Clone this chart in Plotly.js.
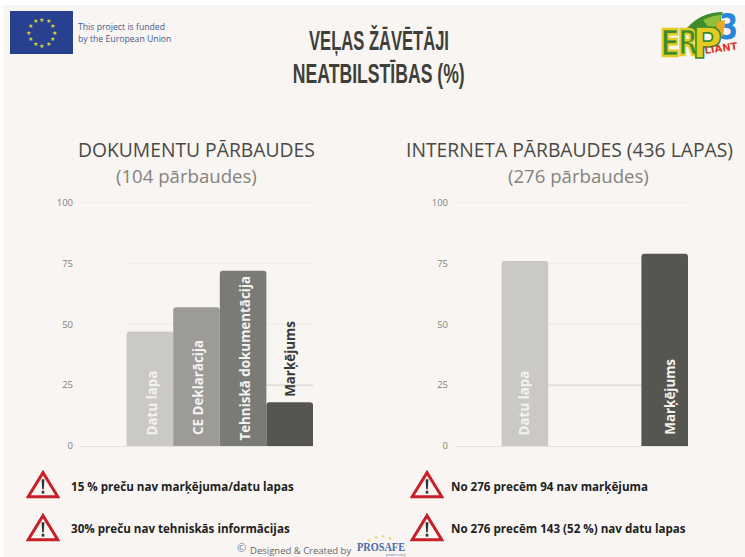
<!DOCTYPE html>
<html><head><meta charset="utf-8">
<script src="https://cdn.plot.ly/plotly-3.0.1.min.js"></script>
<style>html,body{margin:0;padding:0;background:#fff}</style></head>
<body><div id="c" style="width:745px;height:557px"></div>
<script>
// ---- data ----
const docLabels = ['Datu lapa','CE Deklarācija','Tehniskā dokumentācija','Marķējums'];
const docValues = [47,57,72,18];
const docSlots  = [1,2,3,4];
const docColors = ['#cbc9c5','#9c9b97','#7a7a76','#565651'];
const webLabels = ['Datu lapa','Marķējums'];
const webValues = [76,79];
const webSlots  = [1,4];
const webColors = ['#cbc9c5','#565651'];
const yTicks = [0,25,50,75,100];
const gridColors = ['#e6e3df','#d0cdc9','#edeae6','#edeae6','#e8e5e1'];

const W=745,H=557;
function px(x0,y0,x1,y1){return {x0:x0/W,x1:x1/W,y0:1-y1/H,y1:1-y0/H};}
const stars=[];
for(let i=0;i<12;i++){const a=i*Math.PI/6;stars.push(`<text x="${31.5+13*Math.sin(a)}" y="${21.5-13*Math.cos(a)+2.2}" font-size="6" fill="#dcd23a" text-anchor="middle">★</text>`);}
const flag='data:image/svg+xml,'+encodeURIComponent(`<svg xmlns="http://www.w3.org/2000/svg" width="63" height="43" viewBox="0 0 63 43"><rect width="63" height="43" fill="#27408f"/>${stars.join('')}</svg>`);
const warn='data:image/svg+xml,'+encodeURIComponent(`<svg xmlns="http://www.w3.org/2000/svg" width="34" height="28" viewBox="0 0 34 28"><path d="M17 2.5 L31.8 25.8 L2.2 25.8 Z" fill="#f8f5f2" stroke="#c6202a" stroke-width="3" stroke-linejoin="miter"/><path d="M15.6 9 L18.4 9 L17.8 18.5 L16.2 18.5 Z" fill="#333"/><rect x="15.7" y="20" width="2.6" height="2.8" fill="#333"/></svg>`);
const f='font-family="DejaVu Sans" font-weight="bold"';
const logo='data:image/svg+xml,'+encodeURIComponent(`<svg xmlns="http://www.w3.org/2000/svg" width="80" height="54" viewBox="0 0 80 54"><path d="M28 20 Q42 4 64 4 Q60 10 64 18 L38 26 Z" fill="#3f8a2a"/><path d="M44 12 Q54 7 63 7 Q60 12 62 17 L50 20 Z" fill="#8fbf3a"/><text x="60" y="31" ${f} font-size="35" fill="#2a86d8" textLength="19" lengthAdjust="spacingAndGlyphs">3</text><path d="M58 14 L66 12 L64 28 L56 30 Z" fill="#e8a820"/><text x="1" y="48" ${f} font-size="38" fill="#3c8a2c" stroke="#e3cc22" stroke-width="2.4" textLength="20" lengthAdjust="spacingAndGlyphs">E</text><text x="19" y="47" ${f} font-size="36" fill="#3c8a2c" stroke="#e3cc22" stroke-width="2.4" textLength="20" lengthAdjust="spacingAndGlyphs">R</text><text x="33" y="50" ${f} font-size="42" fill="#e3cc22" stroke="#3c8a2c" stroke-width="1.6" textLength="30" lengthAdjust="spacingAndGlyphs">P</text><text x="46" y="46" ${f} font-size="10" fill="#d8382a" textLength="33" lengthAdjust="spacingAndGlyphs" transform="rotate(-8 46 46)">LIANT</text></svg>`);
const pro='data:image/svg+xml,'+encodeURIComponent(`<svg xmlns="http://www.w3.org/2000/svg" width="54" height="23"><g fill="#e8d46a" font-size="5" text-anchor="middle"><text x="15" y="8">★</text><text x="22" y="5">★</text><text x="29" y="4">★</text><text x="36" y="6">★</text></g><text x="27" y="17" text-anchor="middle" font-family="Liberation Serif" font-weight="bold" font-size="12" fill="#4a6aa8" textLength="48" lengthAdjust="spacingAndGlyphs">PROSAFE</text><text x="42" y="22" text-anchor="middle" font-size="3.5" fill="#6a7aa8">product safety</text></svg>`);
function img(src,x0,y0,w,h){return {source:src,xref:'paper',yref:'paper',x:x0/W,y:1-y0/H,sizex:w/W,sizey:h/H,xanchor:'left',yanchor:'top',sizing:'stretch',layer:'above'};}
function ann(text,cx,cy,size,color,family,extra){return Object.assign({text:text,xref:'paper',yref:'paper',x:cx/W,y:1-cy/H,xanchor:'center',yanchor:'middle',showarrow:false,font:{size:size,color:color,family:family}},extra||{});}
function annL(text,x,cy,size,color,family){return ann(text,x,cy,size,color,family,{xanchor:'left'});}
const sans='"Open Sans", sans-serif';
const light='#f4f2ee';
function bars(xs,ys,labels,colors,xa,ya){return {type:'bar',x:xs,y:ys,marker:{color:colors,line:{width:0}},width:1,xaxis:xa,yaxis:ya,hovertext:labels,hoverinfo:'text+y'};}
const traces=[bars(docSlots,docValues,docLabels,docColors,'x','y'),bars(webSlots,webValues,webLabels,webColors,'x2','y2')];
function barLabel(text,slot,yv,xa,ya,color,dx,dy){return {text:'<b>'+text+'</b>',xref:xa,yref:ya,x:slot,y:yv,xanchor:'center',yanchor:'bottom',textangle:-90,showarrow:false,xshift:dx,yshift:dy,font:{family:sans,size:13.4,color:color}};}
const barLabels=[
 barLabel(docLabels[0],docSlots[0],0,'x','y',light,2,9),
 barLabel(docLabels[1],docSlots[1],0,'x','y',light,1,9),
 barLabel(docLabels[2],docSlots[2],0,'x','y',light,1,3),
 barLabel(docLabels[3],docSlots[3],docValues[3],'x','y','#3a3a36',0,3),
 barLabel(webLabels[0],webSlots[0],0,'x2','y2',light,-1,9),
 barLabel(webLabels[1],webSlots[1],0,'x2','y2',light,5,9)
];
function gridShapes(xa,ya){return yTicks.slice(1).map(function(t){const i=yTicks.indexOf(t);return {type:'line',xref:xa,yref:ya,x0:t===100?-0.5:0.5,x1:4.5,y0:t,y1:t,line:{color:gridColors[i],width:1},layer:'below'};});}
const ax={range:[-0.5,4.5],showgrid:false,zeroline:false,showticklabels:false,ticks:'',showline:false,fixedrange:true};
const ay={range:[0,100],tickvals:yTicks,ticks:'',showline:false,showgrid:false,zeroline:true,zerolinecolor:gridColors[0],zerolinewidth:1,tickfont:{family:sans,size:9.5,color:'#85837d'},ticklabelstandoff:6,fixedrange:true};
const titleFont={size:27,color:'#3f3f3a',family:'"Liberation Sans"',weight:700};
const layout={
 width:W,height:H,paper_bgcolor:'#ffffff',plot_bgcolor:'rgba(0,0,0,0)',showlegend:false,margin:{l:0,r:0,t:0,b:0},
 barmode:'overlay',barcornerradius:3,
 xaxis:Object.assign({},ax,{domain:[80/W,313/W],anchor:'y'}),
 yaxis:Object.assign({},ay,{domain:[1-446/H,1-202.5/H],anchor:'x'}),
 xaxis2:Object.assign({},ax,{domain:[455/W,688/W],anchor:'y2'}),
 yaxis2:Object.assign({},ay,{domain:[1-446/H,1-202.5/H],anchor:'x2'}),
 shapes:[Object.assign({type:'rect',xref:'paper',yref:'paper',fillcolor:'#f8f5f2',line:{width:0},layer:'below'},px(3,5,745,557))].concat(gridShapes('x','y'),gridShapes('x2','y2')),
 images:[img(flag,10,11,63,43),img(logo,659,8,80,54),
  img(warn,26,470,34,29),img(warn,26,513,34,29),img(warn,410,470,34,29),img(warn,410,513,34,29),img(pro,354,534,54,23)],
 annotations:barLabels.concat([
  annL('This project is funded',76,27,8.7,'#4a5a8f',sans),
  annL('by the European Union',76,39,8.7,'#4a5a8f',sans),
  ann('VEĻAS ŽĀVĒTĀJI',379,40,27,'#3f3f3a','',{font:titleFont}),
  ann('NEATBILSTĪBAS (%)',379,74,27,'#3f3f3a','',{font:titleFont}),
  ann('DOKUMENTU PĀRBAUDES',196.5,149,19.3,'#4a4a45',sans),
  ann('(104 pārbaudes)',186,176,18.6,'#85837d',sans),
  ann('INTERNETA PĀRBAUDES (436 LAPAS)',569.5,149,19.3,'#4a4a45',sans),
  ann('(276 pārbaudes)',578,176,18.6,'#85837d',sans),
  annL('<b>15 % preču nav marķējuma/datu lapas</b>',69,486,11.6,'#222222',sans),
  annL('<b>30% preču nav tehniskās informācijas</b>',69,528,11.6,'#222222',sans),
  annL('<b>No 276 precēm 94 nav marķējuma</b>',449,486,11.6,'#222222',sans),
  annL('<b>No 276 precēm 143 (52 %) nav datu lapas</b>',449,528,11.6,'#222222',sans),
  annL('©',235,547,11,'#6a7a9a',sans),
  annL('Designed &amp; Created by',248,550,9.5,'#666666',sans)
 ])
};
const condensed={'VEĻAS ŽĀVĒTĀJI':140,'NEATBILSTĪBAS (%)':172};
Plotly.newPlot('c',traces,layout,{displayModeBar:false,staticPlot:true}).then(function(){
  document.querySelectorAll('#c .annotation-text').forEach(function(t){
    const w=condensed[t.textContent];
    if(!w)return;
    const b=t.getBBox(),cx=b.x+b.width/2;
    t.setAttribute('transform','translate('+cx+' 0) scale('+(w/b.width)+' 1) translate('+(-cx)+' 0)');
  });
});
</script></body></html>
